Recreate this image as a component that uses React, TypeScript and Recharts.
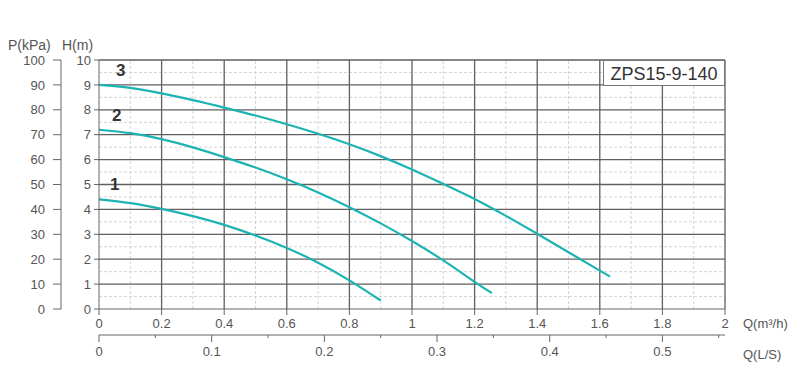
import React from "react";
import {
  ComposedChart,
  Line,
  XAxis,
  YAxis,
  ReferenceLine,
} from "recharts";

// pump curves, Q in m³/h, H in m
const curve1 = [
  { q: 0, h: 4.4 },
  { q: 0.1, h: 4.25 },
  { q: 0.2, h: 4.02 },
  { q: 0.3, h: 3.73 },
  { q: 0.4, h: 3.38 },
  { q: 0.5, h: 2.95 },
  { q: 0.6, h: 2.45 },
  { q: 0.7, h: 1.86 },
  { q: 0.8, h: 1.15 },
  { q: 0.9, h: 0.34 },
];

const curve2 = [
  { q: 0, h: 7.2 },
  { q: 0.1, h: 7.06 },
  { q: 0.2, h: 6.82 },
  { q: 0.3, h: 6.49 },
  { q: 0.4, h: 6.1 },
  { q: 0.5, h: 5.68 },
  { q: 0.6, h: 5.21 },
  { q: 0.7, h: 4.68 },
  { q: 0.8, h: 4.09 },
  { q: 0.9, h: 3.44 },
  { q: 1.0, h: 2.73 },
  { q: 1.1, h: 1.95 },
  { q: 1.2, h: 1.09 },
  { q: 1.255, h: 0.64 },
];

const curve3 = [
  { q: 0, h: 9.0 },
  { q: 0.1, h: 8.88 },
  { q: 0.2, h: 8.66 },
  { q: 0.3, h: 8.39 },
  { q: 0.4, h: 8.09 },
  { q: 0.5, h: 7.77 },
  { q: 0.6, h: 7.42 },
  { q: 0.7, h: 7.04 },
  { q: 0.8, h: 6.62 },
  { q: 0.9, h: 6.14 },
  { q: 1.0, h: 5.6 },
  { q: 1.1, h: 5.02 },
  { q: 1.2, h: 4.42 },
  { q: 1.3, h: 3.74 },
  { q: 1.4, h: 3.02 },
  { q: 1.5, h: 2.28 },
  { q: 1.6, h: 1.54 },
  { q: 1.633, h: 1.3 },
];

const qTicks = [0, 0.2, 0.4, 0.6, 0.8, 1, 1.2, 1.4, 1.6, 1.8, 2];
const qMinor = [0.1, 0.3, 0.5, 0.7, 0.9, 1.1, 1.3, 1.5, 1.7, 1.9];
const hTicks = [0, 1, 2, 3, 4, 5, 6, 7, 8, 9, 10];
const hMinor = [0.5, 1.5, 2.5, 3.5, 4.5, 5.5, 6.5, 7.5, 8.5, 9.5];
const pTicks = [0, 10, 20, 30, 40, 50, 60, 70, 80, 90, 100];
const lsTicks = [0, 0.05, 0.1, 0.15, 0.2, 0.25, 0.3, 0.35, 0.4, 0.45, 0.5, 0.55];
const lsMax = 2 / 3.6;

// invisible series so the L/S axis gets its ticks
const lsSpan = [{ ls: 0 }, { ls: lsMax }];

const TEAL = "#1db3b3";
const AXIS = "#666";
const TEXT = "#555";
const font = "'Liberation Sans', Arial, sans-serif";

const LsTick = (props: any) => {
  const { x, y, payload } = props;
  const v = payload.value;
  const major = Math.abs(Math.round(v * 10) - v * 10) < 1e-6;
  return (
    <g>
      <line x1={x} y1={y} x2={x} y2={y + (major ? 7 : 3)} stroke={AXIS} />
      {major && (
        <text x={x} y={y + 21} textAnchor="middle" fill={TEXT} fontSize={13} fontFamily={font}>
          {Number(v.toFixed(1)).toString()}
        </text>
      )}
    </g>
  );
};

const overlay = (left: number, top: number, extra: React.CSSProperties = {}) =>
  ({
    position: "absolute",
    left,
    top,
    fontFamily: font,
    color: TEXT,
    fontSize: 13,
    lineHeight: "16px",
    whiteSpace: "nowrap",
    ...extra,
  }) as React.CSSProperties;

export default function App() {
  return (
    <div style={{ position: "absolute", left: 0, top: 0, width: 803, height: 386, background: "#fff" }}>
      <ComposedChart
        width={803}
        height={386}
        margin={{ top: 60, right: 78, bottom: 0, left: 8 }}
      >
        <XAxis
          xAxisId="a"
          type="number"
          dataKey="q"
          domain={[0, 2]}
          ticks={qTicks}
          height={26}
          stroke={AXIS}
          tickSize={6}
          tickMargin={4}
          tick={{ fill: TEXT, fontSize: 13, fontFamily: font }}
          allowDataOverflow
        />
        <XAxis
          xAxisId="b"
          type="number"
          dataKey="ls"
          domain={[0, lsMax]}
          ticks={lsTicks}
          height={51}
          stroke={AXIS}
          tickSize={0}
          tickMargin={0}
          tickLine={false}
          tick={(p: any) => <LsTick {...p} />}
          allowDataOverflow
        />
        <YAxis
          yAxisId="h"
          type="number"
          domain={[0, 10]}
          ticks={hTicks}
          width={38}
          stroke={AXIS}
          tickSize={5}
          tickMargin={3}
          tick={{ fill: TEXT, fontSize: 13, fontFamily: font }}
          allowDataOverflow
        />
        <YAxis
          yAxisId="p"
          type="number"
          domain={[0, 100]}
          ticks={pTicks}
          width={53}
          stroke={AXIS}
          tickSize={8}
          tickMargin={8}
          tick={{ fill: TEXT, fontSize: 13, fontFamily: font }}
          allowDataOverflow
        />

        {qMinor.map((v) => (
          <ReferenceLine key={"qm" + v} xAxisId="a" yAxisId="h" x={v} stroke="#d4d4d4" strokeDasharray="3 2" />
        ))}
        {hMinor.map((v) => (
          <ReferenceLine key={"hm" + v} xAxisId="a" yAxisId="h" y={v} stroke="#d4d4d4" strokeDasharray="3 2" />
        ))}
        {qTicks.slice(1).map((v) => (
          <ReferenceLine key={"qM" + v} xAxisId="a" yAxisId="h" x={v} stroke="#5f5f5f" strokeWidth={1.3} />
        ))}
        {hTicks.slice(1).map((v) => (
          <ReferenceLine key={"hM" + v} xAxisId="a" yAxisId="h" y={v} stroke="#5f5f5f" strokeWidth={1.3} />
        ))}

        <Line
          xAxisId="b"
          yAxisId="p"
          data={lsSpan}
          dataKey={() => 0}
          stroke="none"
          dot={false}
          activeDot={false}
          legendType="none"
          isAnimationActive={false}
        />

        {[curve1, curve2, curve3].map((d, i) => (
          <Line
            key={i}
            xAxisId="a"
            yAxisId="h"
            data={d}
            dataKey="h"
            type="natural"
            stroke={TEAL}
            strokeWidth={2.2}
            dot={false}
            activeDot={false}
            isAnimationActive={false}
          />
        ))}
      </ComposedChart>

      <div style={overlay(8, 37, { fontSize: 14 })}>P(kPa)</div>
      <div style={overlay(62, 37, { fontSize: 14 })}>H(m)</div>
      <div style={overlay(743, 316, { fontSize: 13 })}>Q(m³/h)</div>
      <div style={overlay(743, 347, { fontSize: 13 })}>Q(L/S)</div>

      <div style={overlay(116, 63, { fontSize: 17, fontWeight: "bold", color: "#333" })}>3</div>
      <div style={overlay(112, 108, { fontSize: 17, fontWeight: "bold", color: "#333" })}>2</div>
      <div style={overlay(110, 177, { fontSize: 17, fontWeight: "bold", color: "#333" })}>1</div>

      <div
        style={overlay(603, 60, {
          width: 122,
          height: 26,
          border: "1px solid #777",
          background: "#fff",
          color: "#333",
          fontSize: 18,
          lineHeight: "26px",
          textAlign: "center",
          boxSizing: "border-box",
        })}
      >
        ZPS15-9-140
      </div>
    </div>
  );
}
